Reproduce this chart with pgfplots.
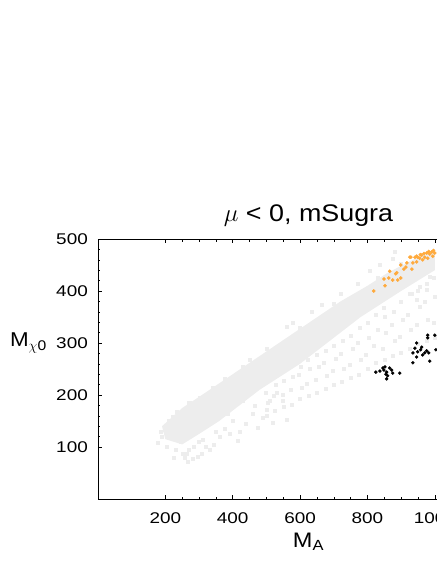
\documentclass[border=0pt]{standalone}
\usepackage{fontspec}
\setmainfont{Liberation Sans}[FakeStretch=1.22]
\newfontfamily\lblfont{Liberation Sans}[FakeStretch=1.12]
\usepackage{pgfplots}
\pgfplotsset{compat=1.18}
\definecolor{cloud}{RGB}{237,237,237}
\definecolor{stau}{RGB}{255,170,60}

\begin{document}
\begin{tikzpicture}
\begin{axis}[
    at={(0,0)}, anchor=south west,
    scale only axis, width=421pt, height=260pt,
    xmin=0, xmax=1250, ymin=0, ymax=500,
    xtick={200,400,...,1200}, ytick={100,200,...,500},
    minor x tick num=3, minor y tick num=4,
    major tick length=4pt, minor tick length=2.5pt,
    tick style={black, line width=0.5pt},
    axis line style={line width=0.6pt},
    /pgf/number format/assume math mode=true,
    /pgf/number format/1000 sep={},
    tick label style={font=\fontsize{15.5}{18}\selectfont},
    xticklabel style={inner sep=0pt, anchor=north, yshift=-13pt},
    yticklabel style={inner sep=0pt, anchor=east, xshift=-10pt},
    title={$\mu$ < 0, mSugra},
    title style={font=\lblfont\fontsize{24}{28}\selectfont, at={(rel axis cs:0.5,1)}, anchor=base, inner sep=0pt, yshift=12pt},
    xlabel={M\textsubscript{A}},
    xlabel style={font=\lblfont\fontsize{21}{24}\selectfont, at={(rel axis cs:0.5,0)}, anchor=base, inner sep=0pt, yshift=-48pt},
    ylabel={M\textsubscript{$\chi$0}},
    ylabel style={font=\lblfont\fontsize{20}{24}\selectfont, rotate=-90, at={(rel axis cs:0,0.585)}, anchor=base east, inner sep=0pt, xshift=-51pt},
]
% dense core of the scan
\addplot[fill=cloud, draw=none] coordinates {
    (190,140) (250,175) (320,205) (400,240) (480,275) (560,310) (640,345)
    (720,380) (800,410) (860,435) (920,455) (980,475) (1000,480)
    (1000,440) (950,420) (900,400) (840,375) (780,350) (720,320) (660,290)
    (600,260) (540,235) (480,210) (420,180) (360,150) (300,125) (250,105) (200,115)
} -- cycle;
% scattered scan points
\addplot[only marks, mark=square*, mark size=1.5pt, cloud] coordinates {
    (178,108) (190,119) (199,133) (223,158) (267,71) (264,88) (252,88) (309,88)
    (332,94) (362,119) (415,113) (273,185) (303,194) (421,129) (460,165) (475,138)
    (501,171) (531,204) (549,190) (561,152) (519,146) (490,156) (205,100) (230,95)
    (285,100) (345,105) (390,125) (240,140) (215,125) (280,78) (300,110)
    (320,100) (270,95) (245,110) (375,135) (400,150) (440,145) (465,180) (510,190)
    (385,165) (430,190) (350,130) (185,130) (225,80) (295,82) (258,80) (312,115)
    (500,160) (505,185) (498,205) (525,170) (522,198) (528,220) (550,178) (548,200)
    (552,228) (575,182) (572,210) (578,235) (600,192) (604,215) (597,240) (602,255)
    (625,198) (620,222) (628,250) (623,268) (650,205) (646,230) (655,255) (650,278)
    (675,212) (679,238) (671,262) (676,285) (700,220) (696,246) (705,270) (700,295)
    (725,226) (729,250) (720,280) (726,305) (750,233) (746,258) (755,290) (750,315)
    (775,240) (780,268) (771,300) (776,330) (800,250) (796,278) (805,310) (800,340)
    (825,262) (820,295) (829,325) (824,355) (850,268) (846,290) (855,320) (850,350)
    (848,368) (875,275) (880,305) (871,335) (877,360) (900,282) (896,312) (905,345)
    (900,380) (925,290) (929,325) (920,355) (926,395) (950,298) (946,335) (955,370)
    (950,400) (975,305) (979,345) (970,380) (976,415) (1000,310) (996,340) (1000,390)
    (998,425)
    (561,331) (579,340) (665,373) (635,360) (807,440) (837,450) (875,463) (881,475)
    (946,383) (976,402) (955,408) (985,427) (500,290) (450,268) (720,395) (770,415)
    (930,395) (990,445) (960,440) (210,150) (235,168) (270,185) (340,215) (375,232)
    (430,255) (600,330) (700,375) (830,425) (900,452)
};
% orange points
\addplot[only marks, mark=*, mark size=1.6pt, stau] coordinates {
    (819,400) (852,410) (849,423) (863,425) (866,438) (875,421) (884,433) (887,435)
    (890,421) (899,425) (899,450) (908,442) (914,446) (917,454) (926,465) (929,465)
    (932,442) (935,454) (941,465) (946,456) (946,467) (949,465) (955,463) (961,469)
    (964,460) (970,465) (976,473) (979,463) (985,471) (991,475) (994,467) (1000,473)
    (968,472) (982,476) (957,470) (996,478)
};
% black points
\addplot[only marks, mark=*, mark size=1.5pt, black] coordinates {
    (825,244) (837,246) (846,252) (849,248) (852,254) (855,240) (857,244) (860,237)
    (857,231) (866,252) (872,248) (875,242) (896,242)
    (935,262) (935,281) (941,290) (946,300) (946,273) (949,283) (958,287) (961,292)
    (964,277) (970,281) (976,285) (982,281) (985,265) (979,310) (979,315) (1000,315)
    (1003,287)
};
\end{axis}
\pgfresetboundingbox
\path[use as bounding box] (-98pt,-65pt) rectangle (338pt,499pt);
\end{tikzpicture}
\end{document}
